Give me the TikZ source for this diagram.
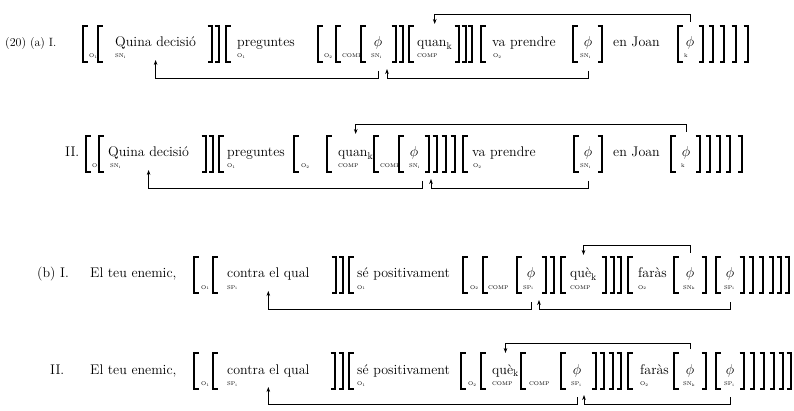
\documentclass[tikz,border=0pt]{standalone}
\usetikzlibrary{arrows.meta}
% brackets: vertical stroke at x, serifs pointing inwards
\newcommand{\lb}[1]{\draw[brk] (#1+4.5,-17) -- (#1,-17) -- (#1,19) -- (#1+4.5,19);}
\newcommand{\rb}[1]{\draw[brk] (#1-4.5,-17) -- (#1,-17) -- (#1,19) -- (#1-4.5,19);}
\tikzset{
  brk/.style={line width=1.3pt, line join=miter},
  wd/.style={anchor=base west, inner sep=0pt, font=\fontsize{14}{16}\selectfont},
  lbl/.style={anchor=base west, inner sep=0pt, font=\fontsize{12}{14}\selectfont},
  ph/.style={anchor=base, inner sep=0pt, font=\fontsize{14}{16}\selectfont},
  sb/.style={anchor=base west, inner sep=0pt, font=\fontsize{5.5}{6}\selectfont},
  link/.style={line width=0.7pt},
  arr/.style={link, -{Stealth[length=5pt,width=3.6pt]}},
}
\begin{document}
\begin{tikzpicture}[x=1pt,y=-1pt]
\useasboundingbox (0,0) rectangle (794,411);

% ---------------- (20)(a) I ----------------
\begin{scope}[shift={(0,43)}]
\coordinate (a1top) at (0,-29); \coordinate (a1hi) at (0,-21); \coordinate (a1tt) at (0,-19);
\coordinate (a1bot) at (0,35); \coordinate (a1lo) at (0,28); \coordinate (a1tb) at (0,17); \coordinate (a1tc) at (0,26);
\node[lbl] (a1n) at (5,4) {(20) (a) I.};
\lb{83} \node[sb] (a1s0) at (89,15) {O\textsubscript{1}};
\lb{98}
\node[wd] (a1qd) at (115,4) {Quina decisió}; \node[sb] (a1s1) at (115,15) {SN\textsubscript{i}};
\rb{212} \rb{219}
\lb{226} \node[wd] (a1pr) at (237,4) {preguntes}; \node[sb] (a1s2) at (237,15) {O\textsubscript{1}};
\lb{318} \node[sb] (a1s3) at (324,15) {O\textsubscript{2}};
\lb{336} \node[sb] (a1s4) at (342,15) {COMP};
\lb{361} \node[ph] (a1p1) at (378,4) {$\phi$}; \node[sb] (a1s5) at (371,15) {SN\textsubscript{i}};
\rb{396} \rb{403}
\lb{409} \node[wd] (a1qu) at (417,4) {quan\textsubscript{k}}; \node[sb] (a1s6) at (417,15) {COMP};
\rb{459} \rb{466} \rb{472}
\lb{481} \node[wd] (a1va) at (492,4) {va prendre}; \node[sb] (a1s7) at (493,15) {O\textsubscript{2}};
\lb{573} \node[ph] (a1p2) at (588,4) {$\phi$}; \node[sb] (a1s8) at (580,15) {SN\textsubscript{i}};
\rb{602}
\node[wd] (a1ej) at (613,4) {en Joan};
\lb{678} \node[ph] (a1p3) at (690,4) {$\phi$}; \node[sb] (a1s9) at (684,15) {k};
\rb{703} \rb{713} \rb{724} \rb{736} \rb{748}
\coordinate (a1j) at ([xshift=9pt]a1p1.south);
\draw[arr] (a1p3 |- a1hi) -- (a1p3 |- a1top) -| (a1qu |- a1tt);
\draw[arr] (a1p1 |- a1lo) -- (a1p1 |- a1bot) -| (a1qd |- a1tb);
\draw[arr] (a1p2 |- a1lo) -- (a1p2 |- a1bot) -| (a1j |- a1tc);
\end{scope}

% ---------------- II ----------------
\begin{scope}[shift={(0,153)}]
\coordinate (a2top) at (0,-29); \coordinate (a2hi) at (0,-21); \coordinate (a2tt) at (0,-19);
\coordinate (a2bot) at (0,35); \coordinate (a2lo) at (0,28); \coordinate (a2tb) at (0,17); \coordinate (a2tc) at (0,26);
\node[wd] (a2r) at (65,4) {II.};
\lb{86} \node[sb] (a2s0) at (92,15) {O\textsubscript{1}};
\lb{99}
\node[wd] (a2qd) at (108,4) {Quina decisió}; \node[sb] (a2s1) at (110,15) {SN\textsubscript{i}};
\rb{206} \rb{213}
\lb{219} \node[wd] (a2pr) at (227,4) {preguntes}; \node[sb] (a2s2) at (227,15) {O\textsubscript{1}};
\lb{294} \node[sb] (a2s3) at (301,15) {O\textsubscript{2}};
\lb{327} \node[wd] (a2qu) at (338,4) {quan\textsubscript{k}}; \node[sb] (a2s4) at (338,15) {COMP};
\lb{374} \node[sb] (a2s5) at (380,15) {COMP};
\lb{399} \node[ph] (a2p1) at (414,4) {$\phi$}; \node[sb] (a2s6) at (409,15) {SN\textsubscript{i}};
\rb{429} \rb{437} \rb{446} \rb{455}
\lb{463} \node[wd] (a2va) at (472,4) {va prendre}; \node[sb] (a2s7) at (473,15) {O\textsubscript{2}};
\lb{574} \node[ph] (a2p2) at (588,4) {$\phi$}; \node[sb] (a2s8) at (580,15) {SN\textsubscript{i}};
\rb{602}
\node[wd] (a2ej) at (613,4) {en Joan};
\lb{671} \node[ph] (a2p3) at (686,4) {$\phi$}; \node[sb] (a2s9) at (681,15) {k};
\rb{700} \rb{710} \rb{720} \rb{730} \rb{742}
\coordinate (a2i) at ([xshift=8pt]a2p1.south);
\coordinate (a2j) at ([xshift=17pt]a2p1.south);
\draw[arr] (a2p3 |- a2hi) -- (a2p3 |- a2top) -| (a2qu |- a2tt);
\draw[arr] (a2i |- a2lo) -- (a2i |- a2bot) -| (a2qd |- a2tb);
\draw[arr] (a2p2 |- a2lo) -- (a2p2 |- a2bot) -| (a2j |- a2tc);
\end{scope}

% ---------------- (b) I ----------------
\begin{scope}[shift={(0,274)}]
\coordinate (b1top) at (0,-29); \coordinate (b1hi) at (0,-21); \coordinate (b1tt) at (0,-19);
\coordinate (b1bot) at (0,35); \coordinate (b1lo) at (0,28); \coordinate (b1tb) at (0,17); \coordinate (b1tc) at (0,26);
\node[wd] (b1n) at (37,4) {(b)};
\node[wd] (b1r) at (60,4) {I.};
\node[wd] (b1e) at (90,4) {El teu enemic,};
\lb{194} \node[sb] (b1s0) at (201,15) {O\textsubscript{1}};
\lb{213} \node[wd] (b1cq) at (227,4) {contra el qual}; \node[sb] (b1s1) at (227,15) {SP\textsubscript{i}};
\rb{336} \rb{343}
\lb{349} \node[wd] (b1sp) at (357,4) {sé positivament}; \node[sb] (b1s2) at (357,15) {O\textsubscript{1}};
\lb{463} \node[sb] (b1s3) at (470,15) {O\textsubscript{2}};
\lb{483} \node[sb] (b1s4) at (488,15) {COMP};
\lb{517} \node[ph] (b1p1) at (531,4) {$\phi$}; \node[sb] (b1s5) at (523,15) {SP\textsubscript{i}};
\rb{546} \rb{554}
\lb{561} \node[wd] (b1qu) at (570,4) {què\textsubscript{k}}; \node[sb] (b1s6) at (570,15) {COMP};
\rb{606} \rb{614} \rb{621}
\lb{628} \node[wd] (b1fa) at (638,4) {faràs}; \node[sb] (b1s7) at (638,15) {O\textsubscript{2}};
\lb{674} \node[ph] (b1p2) at (690,4) {$\phi$}; \node[sb] (b1s8) at (683,15) {SN\textsubscript{k}};
\rb{706}
\lb{716} \node[ph] (b1p3) at (730,4) {$\phi$}; \node[sb] (b1s9) at (724,15) {SP\textsubscript{i}};
\rb{744}
\rb{753} \rb{763} \rb{773} \rb{781} \rb{789}
\coordinate (b1j) at ([xshift=8pt]b1p1.south);
\draw[arr] (b1p2 |- b1hi) -- (b1p2 |- b1top) -| (b1qu |- b1tt);
\draw[arr] (b1p1 |- b1lo) -- (b1p1 |- b1bot) -| (b1cq |- b1tb);
\draw[arr] (b1p3 |- b1lo) -- (b1p3 |- b1bot) -| (b1j |- b1tc);
\end{scope}

% ---------------- II ----------------
\begin{scope}[shift={(0,370)}]
\coordinate (b2top) at (0,-27); \coordinate (b2hi) at (0,-21); \coordinate (b2tt) at (0,-17);
\coordinate (b2bot) at (0,34); \coordinate (b2lo) at (0,27); \coordinate (b2tb) at (0,17); \coordinate (b2tc) at (0,25);
\node[wd] (b2r) at (50,4) {II.};
\node[wd] (b2e) at (90,4) {El teu enemic,};
\lb{194} \node[sb] (b2s0) at (201,15) {O\textsubscript{1}};
\lb{213} \node[wd] (b2cq) at (227,4) {contra el qual}; \node[sb] (b2s1) at (227,15) {SP\textsubscript{i}};
\rb{335} \rb{343}
\lb{349} \node[wd] (b2sp) at (357,4) {sé positivament}; \node[sb] (b2s2) at (357,15) {O\textsubscript{1}};
\lb{461} \node[sb] (b2s3) at (468,15) {O\textsubscript{2}};
\lb{481} \node[wd] (b2qu) at (492,4) {què\textsubscript{k}}; \node[sb] (b2s4) at (492,15) {COMP};
\lb{521} \node[sb] (b2s5) at (529,15) {COMP};
\lb{561} \node[ph] (b2p1) at (577,4) {$\phi$}; \node[sb] (b2s6) at (571,15) {SP\textsubscript{i}};
\rb{596} \rb{604} \rb{613} \rb{621}
\lb{628} \node[wd] (b2fa) at (640,4) {faràs}; \node[sb] (b2s7) at (640,15) {O\textsubscript{2}};
\lb{674} \node[ph] (b2p2) at (690,4) {$\phi$}; \node[sb] (b2s8) at (683,15) {SN\textsubscript{k}};
\rb{706}
\lb{716} \node[ph] (b2p3) at (730,4) {$\phi$}; \node[sb] (b2s9) at (724,15) {SP\textsubscript{i}};
\rb{744}
\rb{754} \rb{764} \rb{774} \rb{783} \rb{791}
\coordinate (b2j) at ([xshift=7pt]b2p1.south);
\draw[arr] (b2p2 |- b2hi) -- (b2p2 |- b2top) -| (b2qu |- b2tt);
\draw[arr] (b2p1 |- b2lo) -- (b2p1 |- b2bot) -| (b2cq |- b2tb);
\draw[arr] (b2p3 |- b2lo) -- (b2p3 |- b2bot) -| (b2j |- b2tc);
\end{scope}
\end{tikzpicture}
\end{document}
